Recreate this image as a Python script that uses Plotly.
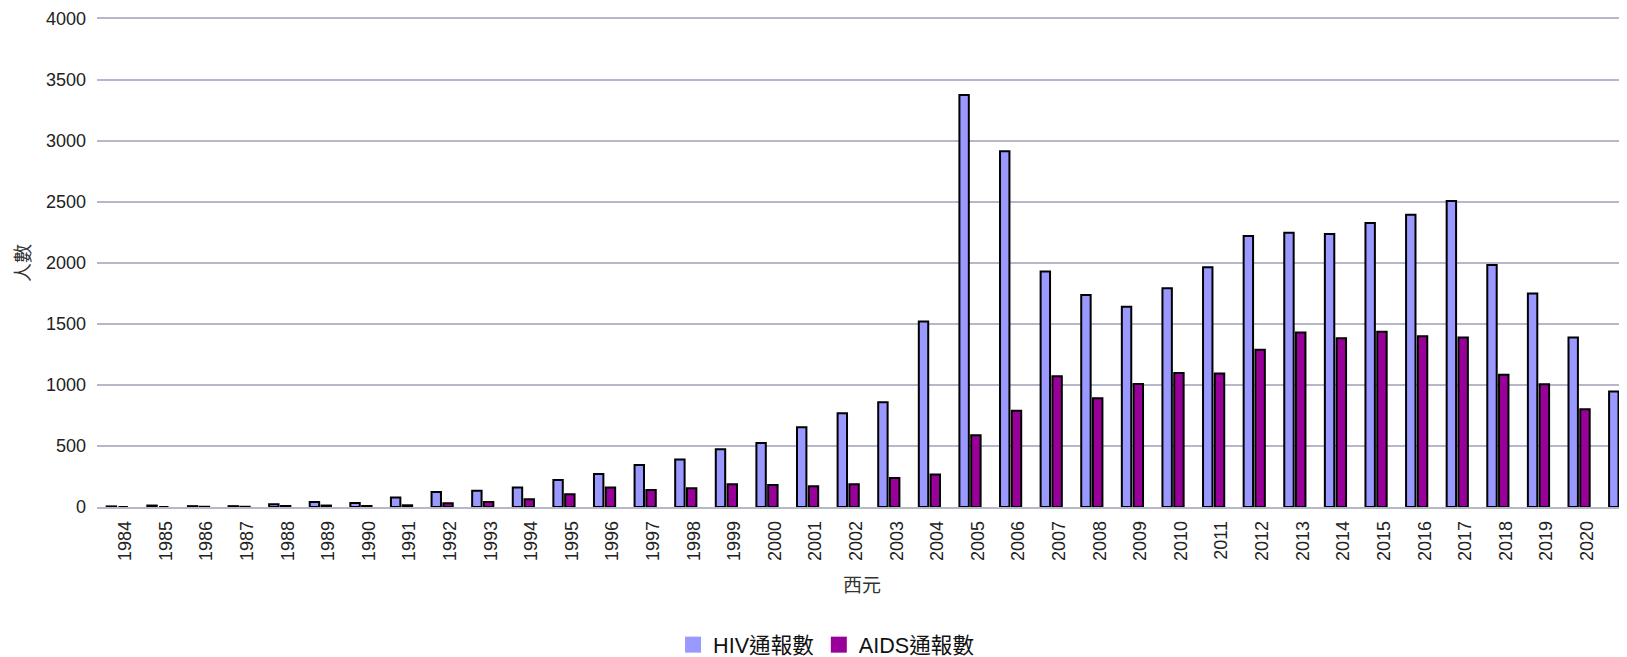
import plotly.graph_objects as go

years = [str(y) for y in range(1984, 2022)]
hiv = [5, 12, 7, 7, 22, 40, 33, 77, 122, 133,
       159, 222, 271, 345, 389, 473, 525, 654, 769, 859,
       1521, 3377, 2915, 1931, 1737, 1641, 1794, 1966, 2221, 2247,
       2237, 2327, 2395, 2508, 1983, 1750, 1389, 947]
aids = [0, 0, 2, 2, 8, 12, 8, 14, 30, 40,
        63, 104, 159, 140, 153, 186, 181, 170, 186, 238,
        266, 588, 788, 1072, 892, 1009, 1099, 1094, 1288, 1431,
        1384, 1436, 1400, 1389, 1083, 1006, 801, 520]

HIV_COLOR = "#9999ff"
AIDS_COLOR = "#990099"
GRID = "#b7b7cc"
FONT = "Liberation Sans, Arial, Noto Sans CJK TC, sans-serif"
CJK = "Noto Sans CJK TC, sans-serif"

fig = go.Figure()
fig.add_trace(go.Bar(x=years, y=hiv, name="HIV通報數", showlegend=False,
                     marker=dict(color=HIV_COLOR, line=dict(color="#000000", width=2))))
fig.add_trace(go.Bar(x=years, y=aids, name="AIDS通報數", showlegend=False,
                     marker=dict(color=AIDS_COLOR, line=dict(color="#000000", width=2))))
# legend-only entries (square swatches without outline)
fig.add_trace(go.Scatter(x=[None], y=[None], mode="markers", name="HIV通報數",
                         marker=dict(symbol="square", size=17, color=HIV_COLOR)))
fig.add_trace(go.Scatter(x=[None], y=[None], mode="markers", name="AIDS通報數",
                         marker=dict(symbol="square", size=17, color=AIDS_COLOR)))

# page body has an 8px margin, so the figure is sized to fit inside the window
fig.update_layout(
    width=1619, height=649,
    margin=dict(l=89, r=0, t=11, b=150, autoexpand=False),
    plot_bgcolor="#ffffff", paper_bgcolor="#ffffff",
    barmode="group", bargap=0.42, bargroupgap=0.2,
    font=dict(family=FONT, size=18, color="#222222"),
    legend=dict(orientation="h", x=0.4765, xanchor="center", y=-0.283, yanchor="middle",
                font=dict(family=FONT, size=21.6, color="#111111")),
)
fig.update_xaxes(
    type="category", categoryorder="array", categoryarray=years,
    range=[-0.5, 37.18], tickangle=-90, showgrid=False, zeroline=False,
    showline=True, mirror=True, linecolor=GRID, linewidth=1.6,
    ticks="", ticklabelstandoff=5, ticklabelshift=8,
    tickfont=dict(size=18, color="#222222"),
    automargin=False,
    title=dict(text="西元", font=dict(family=CJK, size=19, color="#333333"), standoff=19),
)
fig.update_yaxes(
    range=[0, 4000], dtick=500, showgrid=True, gridcolor=GRID, gridwidth=1.6,
    zeroline=False, showline=False, ticks="", ticklabelstandoff=10,
    tickfont=dict(size=18, color="#222222"), automargin=False,
    title=dict(text="人數", font=dict(family=CJK, size=19, color="#333333"), standoff=14),
)

fig.write_html("out.html")
